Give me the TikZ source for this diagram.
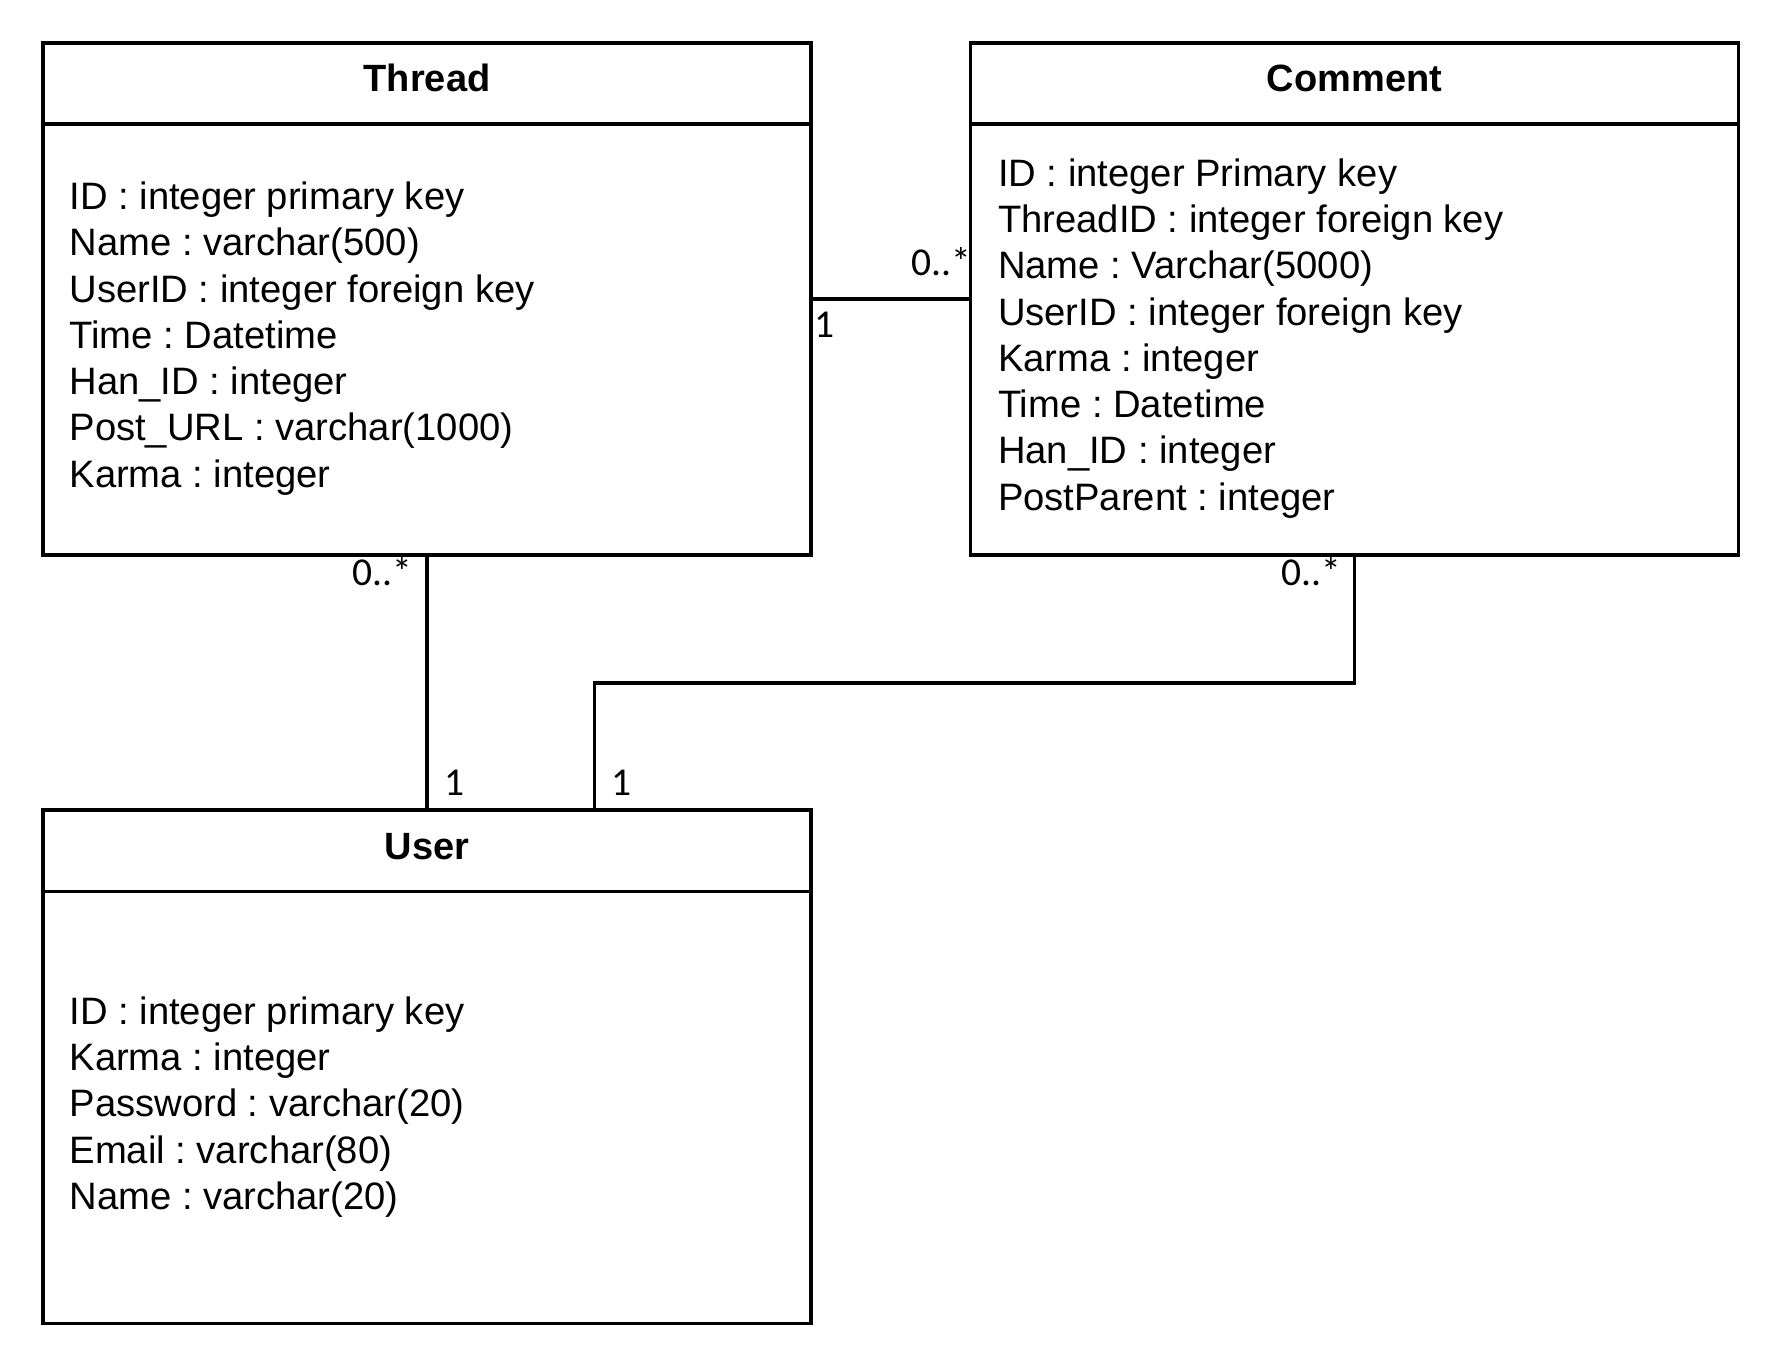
\documentclass[tikz,border=0pt]{standalone}
\usepackage{fontspec}
\setmainfont{Liberation Sans}
\newfontfamily\lblfont{Carlito}
\begin{document}
\frenchspacing
\begin{tikzpicture}[x=1pt,y=-1pt,line width=3.5pt,
  cls/.style={draw, rectangle, inner sep=0pt, outer sep=0pt, minimum width=768.3pt, minimum height=512.2pt},
  title/.style={font=\fontsize{38}{46}\selectfont\bfseries, inner sep=0pt, anchor=base},
  attrs/.style={font=\fontsize{38.2}{46.25}\selectfont, align=left, inner sep=0pt, anchor=west},
  mult/.style={font=\lblfont\fontsize{39.5}{46}\selectfont, inner sep=0pt}]
\useasboundingbox (0,0) rectangle (1769,1367);
% class boxes
\node[cls] (thread) at (427.05,298.95) {};
\node[cls] (comment) at (1354.4,298.95) {};
\node[cls, minimum height=513.4pt] (user) at (427.05,1066.7) {};
% header separators
\draw (thread.west |- 0,124.1) -- (thread.east |- 0,124.1);
\draw (comment.west |- 0,124.1) -- (comment.east |- 0,124.1);
\draw (user.west |- 0,891.3) -- (user.east |- 0,891.3);
% titles
\node[title] (threadT) at (427.05,91.4) {Thread};
\node[title] (commentT) at (1354.4,91.4) {Comment};
\node[title] (userT) at (427.05,859) {User};
% attributes
\node[attrs] (threadA) at (67.8,338.4) {ID : integer primary key\\Name : varchar(500)\\UserID : integer foreign key\\Time : Datetime\\Han\_ID : integer\\Post\_URL : varchar(1000)\\Karma : integer};
\node[attrs] (commentA) at (996.3,338.3) {ID : integer Primary key\\ThreadID : integer foreign key\\Name : Varchar(5000)\\UserID : integer foreign key\\Karma : integer\\Time : Datetime\\Han\_ID : integer\\PostParent : integer};
\node[attrs] (userA) at (67.8,1107) {ID : integer primary key\\Karma : integer\\Password : varchar(20)\\Email : varchar(80)\\Name : varchar(20)};
% connectors
\draw (thread.east) -- (comment.west);
\draw (thread.south) -- (user.north);
\coordinate (bend) at (594.6,683);
\draw (comment.south) |- (bend) -- (bend |- user.north);
% multiplicities
\node[mult, anchor=base east] (m1) at (972.5,275) {0..*};
\node[mult, anchor=base west] (m2) at (812.5,337.5) {1};
\node[mult, anchor=base east] (m3) at (414,585) {0..*};
\node[mult, anchor=base west] (m4) at (442.5,795) {1};
\node[mult, anchor=base east] (m5) at (1342.5,585) {0..*};
\node[mult, anchor=base west] (m6) at (610.2,795) {1};
\end{tikzpicture}
\end{document}
